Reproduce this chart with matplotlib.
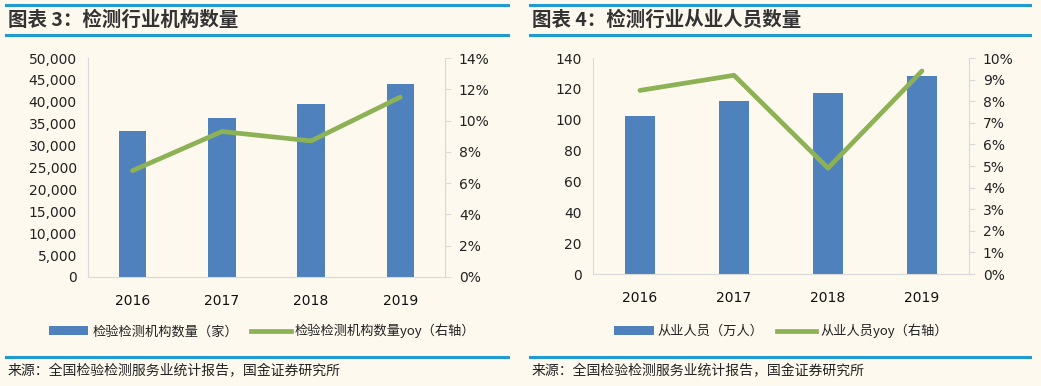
import matplotlib
matplotlib.use("Agg")
import matplotlib.pyplot as plt
from matplotlib.patches import Patch
from matplotlib.lines import Line2D
from matplotlib.ticker import FuncFormatter, MultipleLocator

plt.rcParams['font.family'] = ['Noto Sans CJK SC', 'DejaVu Sans']

years = ['2016', '2017', '2018', '2019']
inst_count = [33235, 36327, 39472, 44007]
inst_yoy = [6.8, 9.3, 8.7, 11.5]
staff = [102.5, 111.9, 117.5, 128.5]
staff_yoy = [8.5, 9.2, 4.9, 9.4]

title_left = '图表 3：检测行业机构数量'
title_right = '图表 4：检测行业从业人员数量'
leg_left = ['检验检测机构数量（家）', '检验检测机构数量yoy（右轴）']
leg_right = ['从业人员（万人）', '从业人员yoy（右轴）']
source = '来源：全国检验检测服务业统计报告，国金证券研究所'

BG = '#FEF9EE'
BAR = '#4F81BD'
GREEN = '#8DB255'
RULE = '#1F9BD0'
SPINE = '#D9D9D9'

W, H = 1041, 386
fig = plt.figure(figsize=(W / 100, H / 100), dpi=100, facecolor=BG)


def fx(px):
    return px / W


def fy(py):
    return 1 - py / H


def rule(x0, x1, y):
    fig.add_artist(Line2D([fx(x0), fx(x1)], [fy(y), fy(y)], color=RULE, lw=2.2,
                          transform=fig.transFigure))


def panel(rect, vals, yoy, ymax, ystep, fmt, rmax, rstep, title, labels,
          tx, x0, x1, legx):
    ax = fig.add_axes(rect)
    ax.set_facecolor(BG)
    x = range(len(years))
    ax.bar(x, vals, width=0.31, color=BAR, zorder=2)
    ax.set_xlim(-0.5, len(years) - 0.5)
    ax.set_ylim(0, ymax)
    ax.yaxis.set_major_locator(MultipleLocator(ystep))
    ax.yaxis.set_major_formatter(FuncFormatter(fmt))
    ax.set_xticks(list(x))
    ax.set_xticklabels(years)
    for s in ['top', 'right']:
        ax.spines[s].set_visible(False)
    ax.spines['left'].set_color(SPINE)
    ax.spines['bottom'].set_color(SPINE)
    ax.tick_params(axis='y', length=0, pad=8, labelsize=10, labelcolor='#222222')
    ax.tick_params(axis='x', length=0, pad=12, labelsize=10, labelcolor='#111111')
    for t in ax.get_yticklabels() + ax.get_xticklabels():
        t.set_fontfamily('DejaVu Sans')

    ax2 = ax.twinx()
    ax2.plot(list(x), yoy, color=GREEN, lw=3.4, solid_capstyle='round', zorder=3)
    ax2.set_ylim(0, rmax)
    ax2.yaxis.set_major_locator(MultipleLocator(rstep))
    ax2.yaxis.set_major_formatter(FuncFormatter(lambda v, p: f'{v:.0f}%'))
    for s in ['top', 'left', 'bottom']:
        ax2.spines[s].set_visible(False)
    ax2.spines['right'].set_color(SPINE)
    ax2.tick_params(axis='y', length=4, color=SPINE, pad=6, labelsize=10,
                    labelcolor='#222222')
    for t in ax2.get_yticklabels():
        t.set_fontfamily('DejaVu Sans')

    rule(x0, x1, 5)
    rule(x0, x1, 35)
    rule(x0, x1, 357)
    fig.text(fx(tx), fy(20), title, fontsize=14, fontweight='bold',
             color='#333333', va='center', ha='left')
    fig.text(fx(tx), fy(371), source, fontsize=10, color='#222222',
             va='center', ha='left')

    handles = [Patch(facecolor=BAR, edgecolor='none'),
               Line2D([0], [0], color=GREEN, lw=3.4)]
    fig.legend(handles, labels, loc='center', bbox_to_anchor=(fx(legx), fy(331)),
               ncol=2, frameon=False, fontsize=9.5, handlelength=3.0,
               handletextpad=0.3, columnspacing=1.0, labelcolor='#222222')


panel([fx(88), fy(277), fx(445 - 88), (277 - 58) / H], inst_count, inst_yoy,
      50000, 5000, lambda v, p: f'{v:,.0f}', 14, 2, title_left, leg_left,
      8, 6, 508, 262)
panel([fx(593), fy(274), fx(969 - 593), (274 - 58) / H], staff, staff_yoy,
      140, 20, lambda v, p: f'{v:.0f}', 10, 1, title_right, leg_right,
      532, 530, 1030, 781)

fig.savefig('out.png', dpi=100, facecolor=BG)
